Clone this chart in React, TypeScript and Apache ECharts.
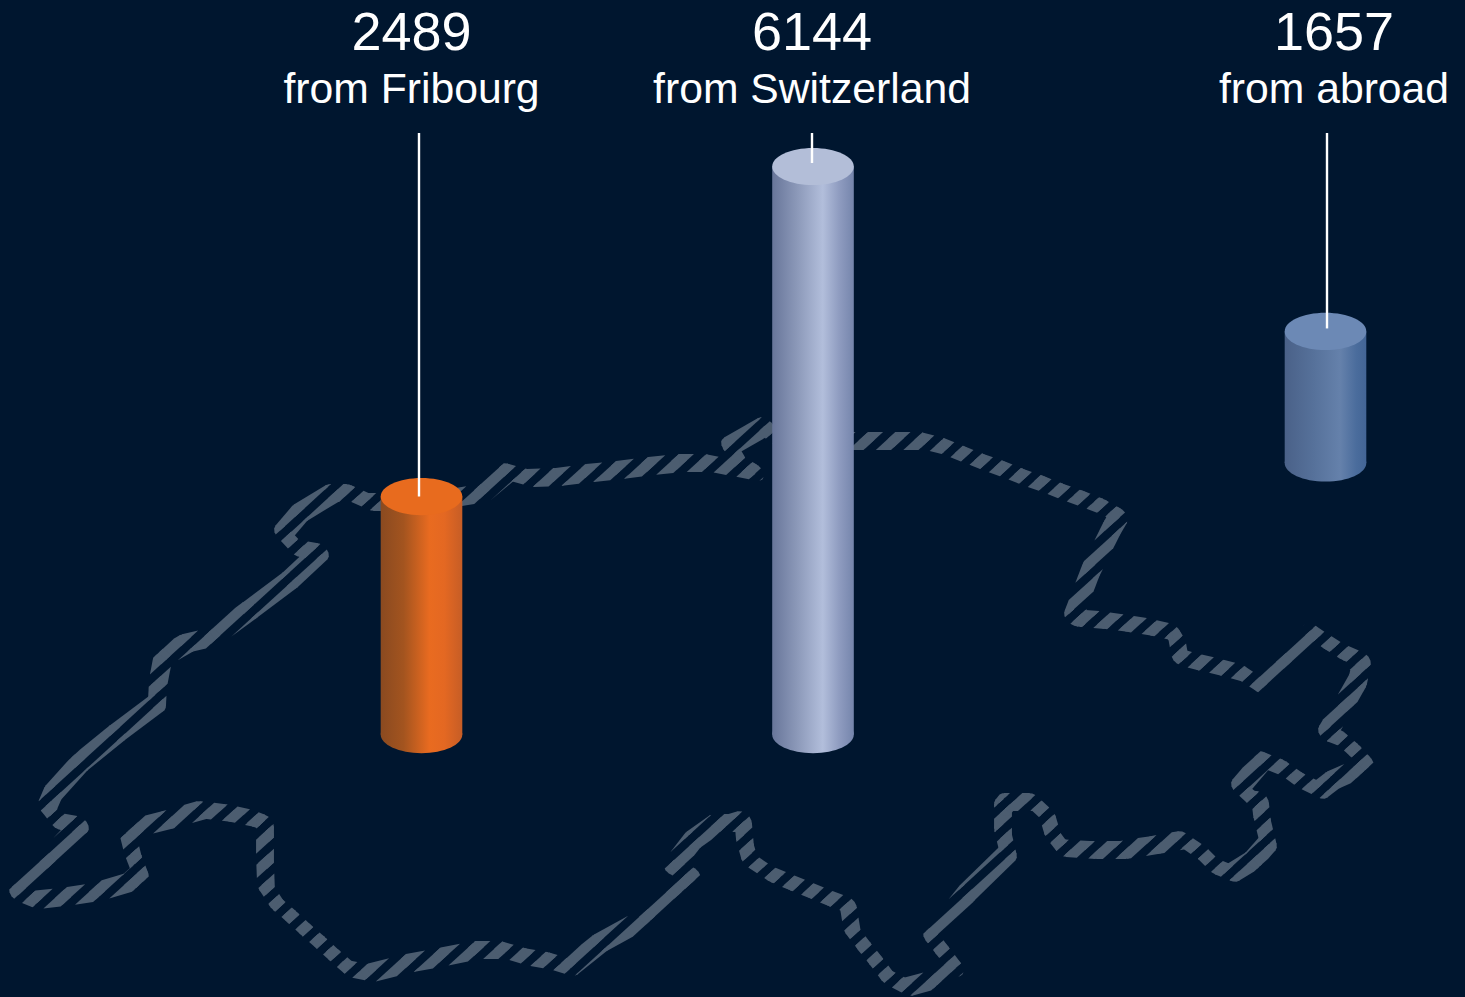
import React, { useEffect, useRef } from "react";
import * as echarts from "echarts";

// ---- data ----
const categories = ["from Fribourg", "from Switzerland", "from abroad"];
const labelValues = [2489, 6144, 1657];
// drawn cylinder extents, on the hidden value axis (the drawing is not strictly proportional)
const cylinderHeights = [2574, 6144, 1423];
const cylinderBases = [0, 0, 2937];
const cylinderAnchors = [421.5, 813, 1325.5];

// outline of Switzerland, in map units
const outlineX = [18, 35, 63, 97, 130, 140, 133, 128, 135, 167, 202, 228, 252, 265, 265, 265, 266, 277, 292, 306, 321, 335, 350, 370, 410, 442, 477, 503, 527, 550, 570, 600, 647, 673, 683, 692, 672, 693, 717, 733, 743, 745, 750, 771, 790, 810, 829, 848, 852, 864, 876, 888, 907, 933, 955, 942, 932, 967, 1008, 1003, 1003, 1007, 1033, 1047, 1053, 1063, 1093, 1123, 1155, 1183, 1202, 1215, 1232, 1253, 1268, 1262, 1260, 1253, 1240, 1263, 1283, 1300, 1320, 1333, 1356, 1365, 1354, 1340, 1327, 1345, 1358, 1362, 1343, 1327, 1312, 1283, 1260, 1242, 1220, 1198, 1180, 1177, 1172, 1150, 1125, 1102, 1077, 1073, 1091, 1112, 1119, 1103, 1083, 1063, 1043, 1023, 1003, 983, 963, 943, 923, 897, 867, 840, 795, 772, 765, 730, 740, 755, 708, 680, 650, 620, 590, 558, 530, 508, 483, 440, 400, 370, 350, 333, 300, 283, 297, 320, 290, 250, 213, 187, 163, 158, 157, 117, 80, 53, 47, 58, 80, 47, 18];
const outlineY = [893, 900, 897, 892, 882, 873, 855, 835, 828, 820, 810, 813, 818, 823, 833, 860, 887, 904, 917, 930, 943, 956, 969, 973, 963, 957, 950, 950, 957, 961, 967, 943, 917, 890, 880, 875, 867, 840, 823, 823, 820, 843, 860, 874, 882, 890, 898, 905, 930, 946, 961, 977, 987, 980, 967, 950, 937, 893, 853, 832, 807, 802, 802, 815, 835, 848, 850, 850, 845, 840, 853, 866, 873, 860, 843, 818, 800, 799, 787, 760, 768, 780, 790, 780, 770, 762, 750, 738, 733, 703, 680, 660, 652, 642, 632, 660, 685, 673, 667, 662, 657, 640, 632, 627, 623, 620, 618, 617, 570, 528, 516, 507, 499, 492, 484, 477, 469, 462, 454, 446, 441, 441, 441, 441, 450, 435, 426, 446, 463, 472, 463, 463, 466, 470, 473, 477, 478, 472, 493, 500, 502, 502, 493, 493, 513, 533, 548, 552, 580, 610, 637, 643, 657, 683, 703, 733, 763, 793, 807, 821, 825, 860, 893];

// ---- style and layout ----
const BG = "#00162f";
const MAP_COLOR = "#4c5d70";
const HATCH_K = 1.0957;
const HATCH_PERIOD = 27.5;
const HATCH_CENTER = 1376.4;
const HATCH_HALF = 7.6;
const PEN_A = 10.5;
const PEN_B = 7;
const RX = 40.8;
const RY = 18.6;
const LEADER_TOP = 133;
const leaderOffsets = [-2.5, -1, 1.5];
const leaderEndOffsets = [0, -3.5, -3];
const textOffsets = [-10, -1, 8.5];
const textRowYs = [31, 88];

const bodyStops = [
  [[0, "#8a4a20"], [0.28, "#a3541f"], [0.6, "#e96b20"], [0.78, "#e46822"], [1, "#c65d26"]],
  [[0, "#68769a"], [0.3, "#8b98b8"], [0.62, "#b2bedb"], [0.82, "#8f9cc0"], [1, "#7585ac"]],
  [[0, "#4a6188"], [0.35, "#56719a"], [0.68, "#6581ab"], [0.88, "#4a6c9c"], [1, "#436596"]],
];
const capColors = ["#e86b1e", "#b3bed8", "#6c89b5"];

type Pt = [number, number];
const cOf = (p: Pt) => p[0] + HATCH_K * p[1];

function clipHalf(poly: Pt[], limit: number, keepAbove: boolean): Pt[] {
  const out: Pt[] = [];
  const inside = (p: Pt) => (keepAbove ? cOf(p) >= limit : cOf(p) <= limit);
  for (let i = 0; i < poly.length; i++) {
    const a = poly[i];
    const b = poly[(i + 1) % poly.length];
    const ia = inside(a);
    const ib = inside(b);
    if (ia) out.push(a);
    if (ia !== ib) {
      const t = (limit - cOf(a)) / (cOf(b) - cOf(a));
      out.push([a[0] + (b[0] - a[0]) * t, a[1] + (b[1] - a[1]) * t]);
    }
  }
  return out;
}

function hatch(poly: Pt[]): Pt[][] {
  const cs = poly.map(cOf);
  const lo = Math.min(...cs);
  const hi = Math.max(...cs);
  const k0 = Math.floor((lo - HATCH_CENTER) / HATCH_PERIOD) - 1;
  const k1 = Math.ceil((hi - HATCH_CENTER) / HATCH_PERIOD) + 1;
  const res: Pt[][] = [];
  for (let k = k0; k <= k1; k++) {
    const mid = HATCH_CENTER + k * HATCH_PERIOD;
    let p = clipHalf(poly, mid - HATCH_HALF, true);
    if (p.length < 3) continue;
    p = clipHalf(p, mid + HATCH_HALF, false);
    if (p.length >= 3) res.push(p);
  }
  return res;
}

const U: Pt = [Math.SQRT1_2, Math.SQRT1_2];
const V: Pt = [Math.SQRT1_2, -Math.SQRT1_2];

function penPolygon(c: Pt): Pt[] {
  const pts: Pt[] = [];
  for (let i = 0; i < 14; i++) {
    const t = (i / 14) * Math.PI * 2;
    const ca = PEN_A * Math.cos(t);
    const cb = PEN_B * Math.sin(t);
    pts.push([c[0] + U[0] * ca + V[0] * cb, c[1] + U[1] * ca + V[1] * cb]);
  }
  return pts;
}

function segmentPolygon(a: Pt, b: Pt): Pt[] {
  const dx = b[0] - a[0];
  const dy = b[1] - a[1];
  const len = Math.hypot(dx, dy) || 1;
  const n: Pt = [-dy / len, dx / len];
  const nu = n[0] * U[0] + n[1] * U[1];
  const nv = n[0] * V[0] + n[1] * V[1];
  const h = Math.hypot(PEN_A * nu, PEN_B * nv) || 1;
  const sx = (PEN_A * PEN_A * nu * U[0] + PEN_B * PEN_B * nv * V[0]) / h;
  const sy = (PEN_A * PEN_A * nu * U[1] + PEN_B * PEN_B * nv * V[1]) / h;
  return [
    [a[0] + sx, a[1] + sy],
    [b[0] + sx, b[1] + sy],
    [b[0] - sx, b[1] - sy],
    [a[0] - sx, a[1] - sy],
  ];
}

const mapSegments = outlineX.slice(0, -1).map((x, i) => [x, outlineY[i], outlineX[i + 1], outlineY[i + 1]]);
const cylinderRows = categories.map((_, i) => [cylinderAnchors[i], cylinderBases[i], cylinderBases[i] + cylinderHeights[i]]);

function renderMapSegment(_: any, api: any) {
  const a = api.coord([api.value(0), api.value(1)]) as Pt;
  const b = api.coord([api.value(2), api.value(3)]) as Pt;
  const pieces = [...hatch(segmentPolygon(a, b)), ...hatch(penPolygon(b))];
  return {
    type: "group",
    silent: true,
    children: pieces.map((points) => ({
      type: "polygon",
      shape: { points },
      style: { fill: MAP_COLOR, stroke: null },
    })),
  };
}

function renderCylinder(params: any, api: any) {
  const i = params.dataIndex;
  const bottom = api.coord([api.value(0), api.value(1)]);
  const top = api.coord([api.value(0), api.value(2)]);
  const cx = bottom[0];
  const fill = new echarts.graphic.LinearGradient(0, 0, 1, 0, bodyStops[i].map(([offset, color]: any) => ({ offset, color })));
  const lx = cx + leaderOffsets[i];
  return {
    type: "group",
    silent: true,
    children: [
      { type: "ellipse", shape: { cx, cy: bottom[1], rx: RX, ry: RY }, style: { fill } },
      { type: "rect", shape: { x: cx - RX, y: top[1], width: RX * 2, height: bottom[1] - top[1] }, style: { fill } },
      { type: "ellipse", shape: { cx, cy: top[1], rx: RX, ry: RY }, style: { fill: capColors[i] } },
      {
        type: "line",
        shape: { x1: lx, y1: LEADER_TOP, x2: lx, y2: top[1] + leaderEndOffsets[i] },
        style: { stroke: "#ffffff", lineWidth: 2.4 },
      },
      {
        type: "text",
        x: cx + textOffsets[i],
        y: textRowYs[0],
        style: { text: String(labelValues[i]), fill: "#ffffff", font: '54px "Liberation Sans"', textAlign: "center", textVerticalAlign: "middle" },
      },
      {
        type: "text",
        x: cx + textOffsets[i],
        y: textRowYs[1],
        style: { text: categories[i], fill: "#ffffff", font: '42.7px "Liberation Sans"', textAlign: "center", textVerticalAlign: "middle" },
      },
    ],
  };
}

export default function App() {
  const ref = useRef<HTMLDivElement>(null);
  useEffect(() => {
    document.body.style.margin = "0";
    const chart = echarts.init(ref.current!, undefined, { renderer: "svg" });
    chart.setOption({
      animation: false,
      backgroundColor: BG,
      grid: { left: 0, right: 0, top: 0, bottom: 0 },
      xAxis: { type: "value", min: 0, max: 1465, show: false },
      yAxis: [
        { type: "value", min: 0, max: 997, inverse: true, show: false },
        { type: "value", min: -2839, max: 7945, show: false },
      ],
      series: [
        {
          type: "custom",
          name: "outline",
          xAxisIndex: 0,
          yAxisIndex: 0,
          coordinateSystem: "cartesian2d",
          clip: false,
          silent: true,
          encode: { x: [0, 2], y: [1, 3] },
          data: mapSegments,
          renderItem: renderMapSegment,
          z: 1,
        },
        {
          type: "custom",
          name: "visitors",
          xAxisIndex: 0,
          yAxisIndex: 1,
          coordinateSystem: "cartesian2d",
          clip: false,
          silent: true,
          encode: { x: 0, y: [1, 2] },
          data: cylinderRows,
          renderItem: renderCylinder,
          z: 2,
        },
      ],
    });
    return () => chart.dispose();
  }, []);
  return <div ref={ref} style={{ position: "fixed", left: 0, top: 0, width: 1465, height: 997 }} />;
}
